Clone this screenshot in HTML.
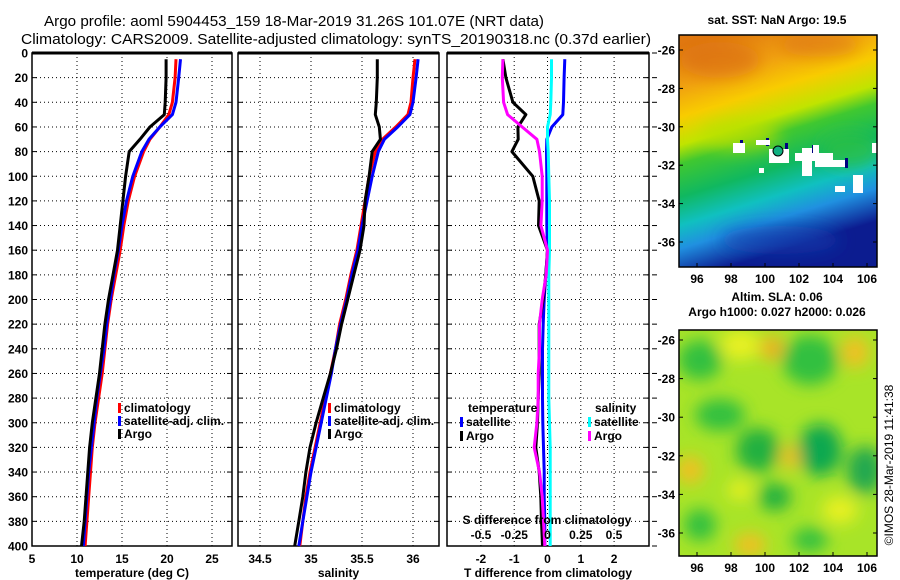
<!DOCTYPE html>
<html><head><meta charset="utf-8">
<style>
html,body{margin:0;padding:0;background:#fff;}
svg{display:block;font-family:"Liberation Sans",sans-serif;font-weight:bold;}
</style></head>
<body>
<svg id="chart" width="900" height="580" viewBox="0 0 900 580" xmlns="http://www.w3.org/2000/svg">
<defs>
<linearGradient id="sstGrad" x1="0" y1="0.05" x2="0.25" y2="1">
<stop offset="0" stop-color="#e07810"/>
<stop offset="0.17" stop-color="#f0a010"/>
<stop offset="0.3" stop-color="#f8cc00"/>
<stop offset="0.42" stop-color="#c0e400"/>
<stop offset="0.5" stop-color="#40c830"/>
<stop offset="0.64" stop-color="#10b860"/>
<stop offset="0.76" stop-color="#10c0c0"/>
<stop offset="0.86" stop-color="#2090e0"/>
<stop offset="1" stop-color="#0c1c90"/>
</linearGradient>
<filter id="blur" x="-50%" y="-50%" width="200%" height="200%"><feGaussianBlur stdDeviation="8"/></filter>
<clipPath id="clipTop"><rect x="679" y="35" width="198" height="232"/></clipPath>
<clipPath id="clipBot"><rect x="679" y="330" width="198" height="226"/></clipPath>
</defs>
<g id="titles">
<text x="294" y="26" font-size="14.5" text-anchor="middle" textLength="500" lengthAdjust="spacingAndGlyphs" font-weight="normal">Argo profile: aoml 5904453_159 18-Mar-2019 31.26S 101.07E (NRT data)</text>
<text x="336" y="44" font-size="14.5" text-anchor="middle" textLength="630" lengthAdjust="spacingAndGlyphs" font-weight="normal">Climatology: CARS2009. Satellite-adjusted climatology: synTS_20190318.nc (0.37d earlier)</text>
</g>
<g id="plots"></g>
<g id="maps">
<g clip-path="url(#clipTop)">
<rect x="679" y="35" width="198" height="232" fill="url(#sstGrad)"/>
<g filter="url(#blur)">
<ellipse cx="720" cy="60" rx="40" ry="18" fill="#d86a10" opacity="0.6"/>
<ellipse cx="820" cy="45" rx="40" ry="12" fill="#d86a10" opacity="0.5"/>
<ellipse cx="740" cy="135" rx="40" ry="15" fill="#b8e000" opacity="0.7"/>
<ellipse cx="850" cy="150" rx="30" ry="18" fill="#30c040" opacity="0.7"/>
<ellipse cx="780" cy="240" rx="60" ry="14" fill="#1040b0" opacity="0.6"/>
</g>
<g fill="#000080">
<rect x="740" y="140" width="3" height="10"/><rect x="766" y="138" width="3" height="8"/>
<rect x="785" y="143" width="3" height="20"/><rect x="812" y="145" width="3" height="10"/>
<rect x="845" y="158" width="3" height="10"/><rect x="858" y="175" width="3" height="14"/>
</g>
<g fill="#fff">
<rect x="733" y="143" width="12" height="10"/><rect x="756" y="140" width="14" height="5"/>
<rect x="769" y="149" width="20" height="14"/><rect x="795" y="153" width="38" height="8"/>
<rect x="802" y="148" width="10" height="28"/><rect x="813" y="145" width="6" height="8"/>
<rect x="815" y="160" width="30" height="7"/><rect x="853" y="175" width="10" height="18"/>
<rect x="835" y="186" width="10" height="6"/><rect x="872" y="143" width="6" height="10"/>
<rect x="759" y="168" width="5" height="5"/>
</g>
<circle cx="778" cy="151" r="5" fill="#10b080" stroke="#000" stroke-width="1"/>
</g>
<rect x="679" y="35" width="198" height="232" fill="none" stroke="#000" stroke-width="1.5"/>
<g clip-path="url(#clipBot)">
<rect x="679" y="330" width="198" height="226" fill="#a8e428"/>
<g filter="url(#blur)">
<ellipse cx="700" cy="360" rx="22" ry="20" fill="#30c040"/>
<ellipse cx="740" cy="345" rx="20" ry="15" fill="#e8f020"/>
<ellipse cx="772" cy="348" rx="12" ry="12" fill="#f0b020"/>
<ellipse cx="810" cy="360" rx="28" ry="25" fill="#30c040"/>
<ellipse cx="855" cy="352" rx="14" ry="16" fill="#f0c020"/>
<ellipse cx="720" cy="415" rx="25" ry="16" fill="#30c040"/>
<ellipse cx="758" cy="450" rx="22" ry="22" fill="#20b040"/>
<ellipse cx="820" cy="450" rx="22" ry="26" fill="#10a850"/>
<ellipse cx="790" cy="457" rx="10" ry="12" fill="#f0c020"/>
<ellipse cx="690" cy="470" rx="14" ry="14" fill="#f0c020"/>
<ellipse cx="865" cy="470" rx="18" ry="24" fill="#20a850"/>
<ellipse cx="775" cy="497" rx="16" ry="14" fill="#20b040"/>
<ellipse cx="740" cy="490" rx="12" ry="10" fill="#e8f020"/>
<ellipse cx="840" cy="510" rx="18" ry="14" fill="#e8f020"/>
<ellipse cx="750" cy="545" rx="16" ry="12" fill="#f0c020"/>
<ellipse cx="700" cy="525" rx="16" ry="16" fill="#30c040"/>
<ellipse cx="810" cy="540" rx="18" ry="12" fill="#30c040"/>
</g>
</g>
<rect x="679" y="330" width="198" height="226" fill="none" stroke="#000" stroke-width="1.5"/>
<text x="777" y="24" font-size="12" text-anchor="middle">sat. SST: NaN Argo: 19.5</text>
<text x="777" y="301" font-size="12" text-anchor="middle">Altim. SLA: 0.06</text>
<text x="777" y="316" font-size="12" text-anchor="middle">Argo h1000: 0.027 h2000: 0.026</text>
<text x="0" y="0" font-size="12" font-weight="normal" text-anchor="middle" transform="translate(893,465) rotate(-90)">©IMOS 28-Mar-2019 11:41:38</text>
</g>
</svg>
<script>
const depths=[5,20,40,50,60,70,80,100,120,140,160,180,200,220,240,260,280,300,320,340,360,380,400];
const tempClim=[21.0,20.9,20.6,20.2,19.2,18.1,17.4,16.4,15.7,15.2,14.8,14.3,13.8,13.4,13.1,12.8,12.4,12.0,11.7,11.5,11.3,11.1,10.9];
const tempSat=[21.5,21.3,21.0,20.6,19.2,18.0,17.2,16.2,15.5,15.0,14.6,14.1,13.7,13.3,13.0,12.6,12.2,11.9,11.6,11.3,11.1,10.9,10.7];
const tempArgo=[19.9,19.9,19.8,19.7,18.1,17.0,15.8,15.4,15.1,14.8,14.5,14.0,13.5,13.1,12.8,12.5,12.1,11.7,11.4,11.2,11.0,10.8,10.5];
const salClim=[36.02,36.0,35.98,35.95,35.83,35.7,35.63,35.57,35.53,35.49,35.45,35.39,35.34,35.28,35.24,35.19,35.14,35.09,35.04,34.99,34.95,34.92,34.89];
const salSat=[36.05,36.03,36.0,35.97,35.85,35.72,35.66,35.6,35.55,35.5,35.46,35.4,35.35,35.29,35.24,35.2,35.15,35.1,35.05,35.0,34.96,34.92,34.88];
const salArgo=[35.65,35.65,35.64,35.63,35.67,35.68,35.6,35.57,35.53,35.52,35.48,35.42,35.36,35.3,35.25,35.19,35.12,35.05,34.99,34.95,34.92,34.88,34.84];
const dTempSat=[0.52,0.50,0.48,0.46,0.13,-0.02,-0.03,-0.02,-0.02,-0.02,0,-0.05,-0.1,-0.13,-0.15,-0.15,-0.15,-0.14,-0.12,-0.1,-0.1,-0.08,-0.08];
const dTempArgo=[-1.34,-1.25,-1.04,-0.65,-0.89,-0.88,-1.07,-0.44,-0.25,-0.27,0,-0.05,-0.13,-0.25,-0.25,-0.25,-0.28,-0.3,-0.35,-0.25,-0.2,-0.18,-0.15];
const dSalSat=[0.03,0.03,0.025,0.02,0.0,0.0,0.005,0.01,0.015,0.015,0.015,0.01,0.01,0.01,0.01,0.01,0.01,0.015,0.02,0.02,0.02,0.02,0.02];
const dSalArgo=[-0.335,-0.34,-0.33,-0.3,-0.19,-0.08,-0.06,-0.04,-0.04,-0.05,0,-0.01,-0.04,-0.06,-0.06,-0.07,-0.07,-0.08,-0.1,-0.06,-0.04,-0.03,-0.02];
const depthTicks=[0,20,40,60,80,100,120,140,160,180,200,220,240,260,280,300,320,340,360,380,400];
const tempTicks=[5,10,15,20,25];
const salTicks=[34.5,35,35.5,36];
const dTempTicks=[-2,-1,0,1,2];
const dSalTicks=[-0.5,-0.25,0,0.25,0.5];
const latTicks=[-26,-28,-30,-32,-34,-36];
const lonTicks=[96,98,100,102,104,106];

const NS='http://www.w3.org/2000/svg';
const root=document.getElementById('plots');
function el(tag,attrs,parent){const e=document.createElementNS(NS,tag);for(const k in attrs)e.setAttribute(k,attrs[k]);(parent||root).appendChild(e);return e;}
const TOP=53,BOT=546;
const yD=d=>TOP+d*(BOT-TOP)/400;

const panels=[
 {name:'temperature',x0:32,x1:232,vmin:5,vmax:5+200/9,ticks:tempTicks,label:'temperature (deg C)'},
 {name:'salinity',x0:238,x1:439,vmin:34.5-22/102,vmax:34.5+179/102,ticks:salTicks,label:'salinity'},
 {name:'difference',x0:447,x1:649,vmin:-(547.5-447)/33.3,vmax:(649-547.5)/33.3,ticks:dTempTicks,label:'T difference from climatology'}
];
panels.forEach(p=>{p.sx=v=>p.x0+(v-p.vmin)/(p.vmax-p.vmin)*(p.x1-p.x0);});
const sS=v=>547.5+v*133;

panels.forEach((p,i)=>{
 const g=el('g',{});
 
 
 depthTicks.forEach(d=>{if(d>0&&d<400){const l=el('line',{x1:p.x0,x2:p.x1,y1:yD(d),y2:yD(d),stroke:'#000','stroke-width':1,'stroke-dasharray':'1,3'},g);}});
 p.ticks.forEach(v=>{const x=p.sx(v);if(x>p.x0+1&&x<p.x1-1){const l=el('line',{x1:x,x2:x,y1:TOP,y2:BOT,stroke:'#000','stroke-width':1,'stroke-dasharray':'1,3'},g);}});
 el('rect',{x:p.x0,y:TOP,width:p.x1-p.x0,height:BOT-TOP,fill:'none',stroke:'#000','stroke-width':1.5},g);
 el('line',{x1:p.x0,x2:p.x1,y1:TOP,y2:TOP,stroke:'#000','stroke-width':3},g);
 depthTicks.forEach(d=>{
  el('line',{x1:p.x0,x2:p.x0+5,y1:yD(d),y2:yD(d),stroke:'#000'},g);
  el('line',{x1:p.x1,x2:p.x1-5,y1:yD(d),y2:yD(d),stroke:'#000'},g);
  if(i===0){const t=el('text',{x:28,y:yD(d)+4.5,'font-size':12,'text-anchor':'end'},g);t.textContent=d;}
 });
 p.ticks.forEach(v=>{const t=el('text',{x:p.sx(v),y:563,'font-size':12,'text-anchor':'middle'},g);t.textContent=v;});
 const xl=el('text',{x:(p.x0+p.x1)/2,y:577,'font-size':12,'text-anchor':'middle'},g);xl.textContent=p.label;
 
 
});
depthTicks.forEach(d=>{el('line',{x1:652,x2:657,y1:yD(d),y2:yD(d),stroke:'#000'});});

function line(vals,sx,color,name,w){
 const pts=depths.map((d,k)=>sx(vals[k]).toFixed(1)+','+yD(d).toFixed(1)).join(' ');
 const pl=el('polyline',{points:pts,fill:'none',stroke:color,'stroke-width':w||3,'stroke-linejoin':'round'});
 
 
}
const P=panels;
line(tempClim,P[0].sx,'#ff0000','temp-climatology-line');
line(tempSat,P[0].sx,'#0000ff','temp-satellite-line');
line(tempArgo,P[0].sx,'#000000','temp-argo-line');
line(salClim,P[1].sx,'#ff0000','sal-climatology-line');
line(salSat,P[1].sx,'#0000ff','sal-satellite-line');
line(salArgo,P[1].sx,'#000000','sal-argo-line');
line(dTempSat,P[2].sx,'#0000ff','dtemp-satellite-line');
line(dTempArgo,P[2].sx,'#000000','dtemp-argo-line');
line(dSalSat,sS,'#00ffff','dsal-satellite-line');
line(dSalArgo,sS,'#ff00ff','dsal-argo-line');

const st=el('text',{x:547,y:524,'font-size':12,'text-anchor':'middle'});st.textContent='S difference from climatology';


dSalTicks.forEach(v=>{const t=el('text',{x:sS(v),y:539,'font-size':12,'text-anchor':'middle'});t.textContent=v;
 
 });

function legend(x,y,color,label,name){
 const g=el('g',{});
 
 
 el('rect',{x:x,y:y-9,width:3,height:10,fill:color},g);
 const t=el('text',{x:x+6,y:y,'font-size':12},g);t.textContent=label;
}
legend(118,412,'#ff0000','climatology','legend-temp-climatology');
legend(118,425,'#0000ff','satellite-adj. clim.','legend-temp-satellite');
legend(118,438,'#000000','Argo','legend-temp-argo');
legend(328,412,'#ff0000','climatology','legend-sal-climatology');
legend(328,425,'#0000ff','satellite-adj. clim.','legend-sal-satellite');
legend(328,438,'#000000','Argo','legend-sal-argo');
const lt=el('text',{x:468,y:412,'font-size':12});lt.textContent='temperature';


const ls=el('text',{x:595,y:412,'font-size':12});ls.textContent='salinity';


legend(460,426,'#0000ff','satellite','legend-dtemp-satellite');
legend(460,440,'#000000','Argo','legend-dtemp-argo');
legend(588,426,'#00ffff','satellite','legend-dsal-satellite');
legend(588,440,'#ff00ff','Argo','legend-dsal-argo');

const mg=document.getElementById('maps');
const lonX=v=>697+(v-96)*17;
function latYTop(v){return 50+(-26-v)*19.2;}
function latYBot(v){return 340+(-26-v)*19.3;}
latTicks.forEach(v=>{
 [[latYTop(v),'sst'],[latYBot(v),'sla']].forEach(([y,n])=>{
  el('line',{x1:679,x2:683,y1:y,y2:y,stroke:'#000'},mg);
  el('line',{x1:877,x2:873,y1:y,y2:y,stroke:'#000'},mg);
  const t=el('text',{x:675,y:y+4.5,'font-size':12,'text-anchor':'end'},mg);t.textContent=v;
  
  
 });
});
lonTicks.forEach(v=>{
 const x=lonX(v);
 [[267,283,'sst'],[556,572,'sla']].forEach(([yb,ty,n])=>{
  el('line',{x1:x,x2:x,y1:yb,y2:yb-4,stroke:'#000'},mg);
  const t=el('text',{x:x,y:ty,'font-size':12,'text-anchor':'middle'},mg);t.textContent=v;
  
  
 });
});
</script>
</body></html>
